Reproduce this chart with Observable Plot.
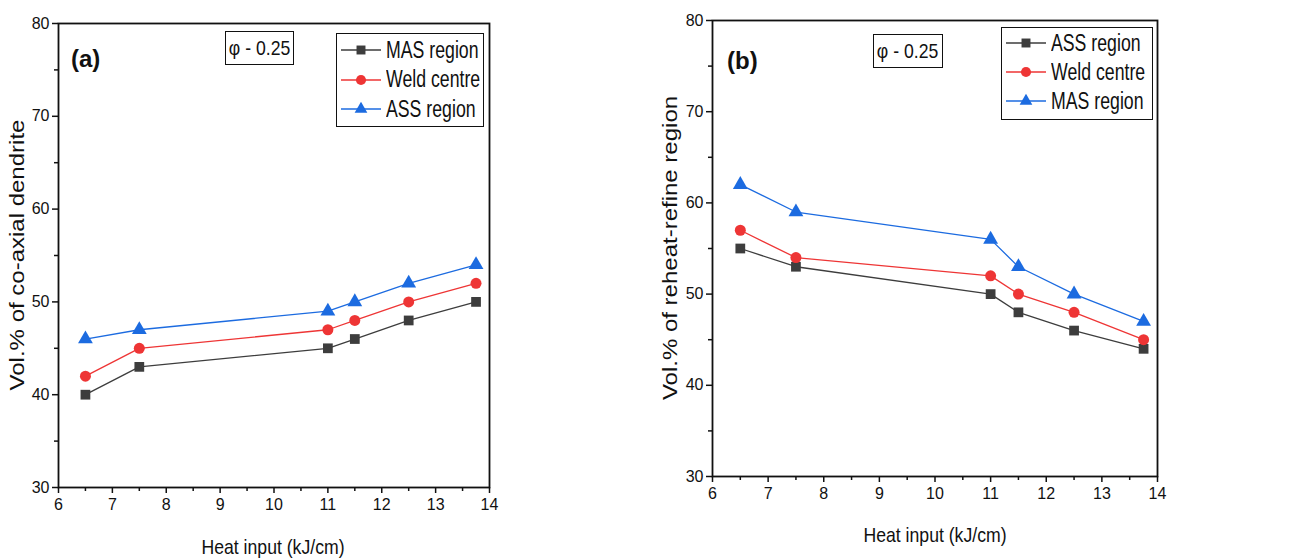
<!DOCTYPE html>
<html><head><meta charset="utf-8">
<script src="https://cdn.jsdelivr.net/npm/d3@7"></script>
<script src="https://cdn.jsdelivr.net/npm/@observablehq/plot@0.6"></script>
<style>
body{margin:0;background:#fff;}
#wrap{position:relative;width:1307px;height:560px;overflow:hidden;font-family:"Liberation Sans",Arial,sans-serif;color:#111;}
#wrap div{white-space:nowrap;}
.panel{position:absolute;top:0;}
.legend{position:absolute;border:1.5px solid #111;background:#fff;box-sizing:border-box;}
.row{position:absolute;left:0;height:30px;display:flex;align-items:center;font-size:23px;}
.row span{display:inline-block;transform:scaleX(0.77);transform-origin:left center;}
.phi{position:absolute;border:1.5px solid #111;box-sizing:border-box;font-size:21px;display:flex;align-items:center;justify-content:center;}
.phi span{display:inline-block;transform:scaleX(0.84);}
.tag{position:absolute;font-weight:bold;font-size:24px;}
.ylab{position:absolute;font-size:20px;transform:translate(-50%,-50%) rotate(-90deg) scaleX(1.2);}
.xlab{position:absolute;font-size:21px;transform:translate(-50%,-50%) scaleX(0.84);}
</style></head>
<body><div id="wrap"></div>
<script>
// ---- data ----
const heatInput = [6.5, 7.5, 11, 11.5, 12.5, 13.75];
// panel (a): Vol.% of co-axial dendrite
const seriesA = ["MAS region", "Weld centre", "ASS region"];
const coaxialMAS = [40, 43, 45, 46, 48, 50];
const coaxialWeld = [42, 45, 47, 48, 50, 52];
const coaxialASS = [46, 47, 49, 50, 52, 54];
// panel (b): Vol.% of reheat-refine region
const seriesB = ["ASS region", "Weld centre", "MAS region"];
const reheatASS = [55, 53, 50, 48, 46, 44];
const reheatWeld = [57, 54, 52, 50, 48, 45];
const reheatMAS = [62, 59, 56, 53, 50, 47];
const xTicks = [6, 7, 8, 9, 10, 11, 12, 13, 14];
const xMinor = [6.5, 7.5, 8.5, 9.5, 10.5, 11.5, 12.5, 13.5];
const yTicks = [30, 40, 50, 60, 70, 80];
const yMinor = [35, 45, 55, 65, 75];
const phiLabel = "φ - 0.25";
const xLabel = "Heat input (kJ/cm)";

const colors = ["#3d3d3d", "#ee3535", "#1c6be0"];
const symbols = ["square", "circle", "triangle"];

function rows(names, arrays) {
  const out = [];
  names.forEach((n, i) => arrays[i].forEach((v, j) => out.push({series: n, x: heatInput[j], y: v})));
  return out;
}

const wrap = document.getElementById("wrap");
const FONT = '"Liberation Sans",Arial,sans-serif';

function panel(cfg) {
  const data = rows(cfg.names, cfg.arrays);
  const chart = Plot.plot({
    width: cfg.width, height: 560,
    marginLeft: cfg.ml, marginRight: cfg.mr, marginTop: cfg.mt, marginBottom: cfg.mb,
    style: {fontFamily: FONT, fontSize: "16px", color: "#111", background: "transparent", overflow: "visible"},
    x: {domain: [6, 14]},
    y: {domain: [30, 80]},
    color: {domain: cfg.names, range: colors},
    symbol: {domain: cfg.names, range: symbols},
    marks: [
      Plot.axisX({ticks: xTicks, tickSize: 6, tickPadding: 5, label: null, strokeWidth: 1.5, stroke: "#111"}),
      Plot.axisX({ticks: xMinor, tickSize: 4, tickFormat: () => "", label: null, strokeWidth: 1.5, stroke: "#111"}),
      Plot.axisY({ticks: yTicks, tickSize: 6, tickPadding: 3, label: null, strokeWidth: 1.5, stroke: "#111"}),
      Plot.axisY({ticks: yMinor, tickSize: 4, tickFormat: () => "", label: null, strokeWidth: 1.5, stroke: "#111"}),
      Plot.frame({stroke: "#111", strokeWidth: 1.8}),
      Plot.line(data, {x: "x", y: "y", stroke: "series", z: "series", strokeWidth: 1.3}),
      Plot.dot(data, {x: "x", y: "y", fill: "series", symbol: "series", r: 5.5, stroke: "none"})
    ]
  });
  const div = document.createElement("div");
  div.className = "panel";
  div.style.left = cfg.left + "px";
  div.appendChild(chart);
  wrap.appendChild(div);

  const tag = document.createElement("div");
  tag.className = "tag"; tag.textContent = cfg.tag;
  tag.style.left = cfg.tagX + "px"; tag.style.top = cfg.tagY + "px";
  wrap.appendChild(tag);

  const phi = document.createElement("div");
  phi.className = "phi"; phi.innerHTML = `<span>${phiLabel}</span>`;
  Object.assign(phi.style, {left: cfg.phi[0] + "px", top: cfg.phi[1] + "px", width: cfg.phi[2] + "px", height: cfg.phi[3] + "px"});
  wrap.appendChild(phi);

  const lg = document.createElement("div");
  lg.className = "legend";
  Object.assign(lg.style, {left: cfg.leg[0] + "px", top: cfg.leg[1] + "px", width: cfg.leg[2] + "px", height: cfg.leg[3] + "px"});
  cfg.names.forEach((n, i) => {
    const r = document.createElement("div");
    r.className = "row";
    r.style.top = (cfg.legRow0 + i * cfg.legStep - 15) + "px";
    const sym = d3.symbol(i === 0 ? d3.symbolSquare : i === 1 ? d3.symbolCircle : d3.symbolTriangle, i === 2 ? 70 : 80)();
    r.innerHTML = `<svg width="46" height="30" style="margin-left:2px;flex:none"><line x1="2" x2="42" y1="15" y2="15" stroke="${colors[i]}" stroke-width="1.5"/><path d="${sym}" transform="translate(22,15)" fill="${colors[i]}"/></svg><span style="margin-left:1px">${n}</span>`;
    lg.appendChild(r);
  });
  wrap.appendChild(lg);

  const yl = document.createElement("div");
  yl.className = "ylab"; yl.textContent = cfg.yLabel;
  yl.style.left = cfg.ylab[0] + "px"; yl.style.top = cfg.ylab[1] + "px";
  wrap.appendChild(yl);
  const xl = document.createElement("div");
  xl.className = "xlab"; xl.textContent = xLabel;
  xl.style.left = cfg.xlab[0] + "px"; xl.style.top = cfg.xlab[1] + "px";
  wrap.appendChild(xl);
}

panel({
  names: seriesA, arrays: [coaxialMAS, coaxialWeld, coaxialASS],
  left: 0, width: 650, ml: 58, mr: 161, mt: 23, mb: 73,
  tag: "(a)", tagX: 71, tagY: 45,
  phi: [225, 31, 69, 34],
  leg: [336, 33, 148, 94], legRow0: 16, legStep: 29.5,
  yLabel: "Vol.% of co-axial dendrite", ylab: [17, 255],
  xlab: [273, 547]
});
panel({
  names: seriesB, arrays: [reheatASS, reheatWeld, reheatMAS],
  left: 650, width: 657, ml: 62, mr: 150, mt: 20, mb: 84,
  tag: "(b)", tagX: 727, tagY: 47,
  phi: [873, 34, 70, 34],
  leg: [1001, 27, 152, 93], legRow0: 15, legStep: 29,
  yLabel: "Vol.% of reheat-refine region", ylab: [670, 248],
  xlab: [935, 535]
});
</script>
</body></html>
